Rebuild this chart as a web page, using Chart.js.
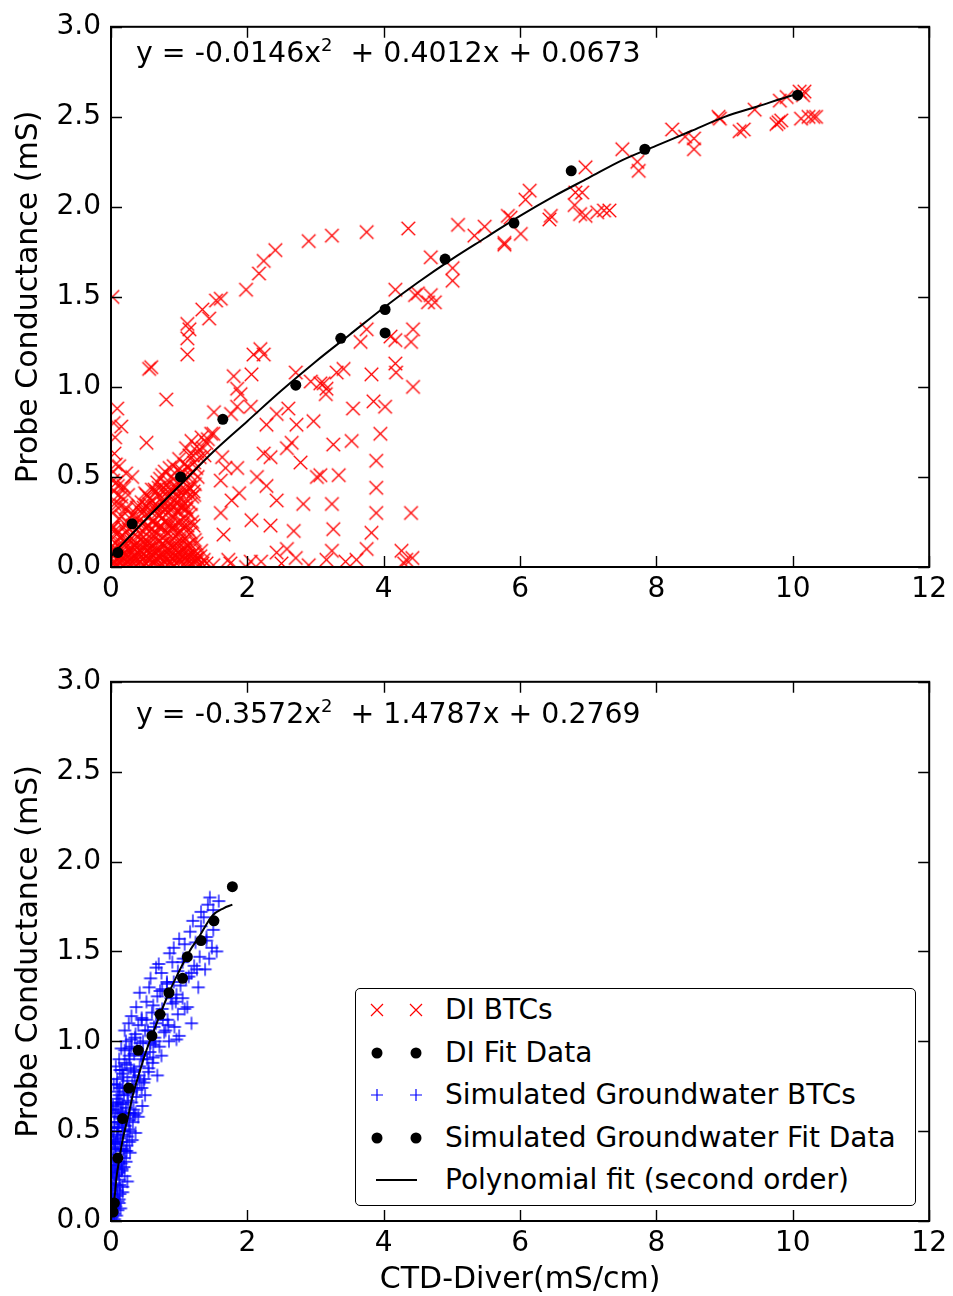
<!DOCTYPE html>
<html><head><meta charset="utf-8">
<script src="https://cdn.jsdelivr.net/npm/chart.js@4.4.1/dist/chart.umd.min.js"></script>
<style>
body{margin:0;background:#fff;width:953px;height:1296px;position:relative;overflow:hidden;font-family:"DejaVu Sans",sans-serif;}
canvas{position:absolute;left:0;}
#c1{top:0;}
#c2{top:655px;}
.eq{position:absolute;left:136px;font-size:28.4px;font-family:"DejaVu Sans";color:#000;white-space:pre;line-height:28px;}
.eq .sp{font-size:18px;position:relative;top:-11px;}
#legend{position:absolute;left:355px;top:988px;width:559px;height:216px;border:1.6px solid #000;border-radius:5px;background:#fff;}
.row{position:absolute;left:0;height:40px;width:100%;}
.row svg{position:absolute;top:0;left:0;}
.row span{position:absolute;left:89px;top:4px;font-size:28px;line-height:32px;color:#000;white-space:pre;}
</style></head>
<body>
<canvas id="c1" width="953" height="610"></canvas>
<canvas id="c2" width="953" height="643"></canvas>
<div class="eq" style="top:39px">y = -0.0146x<span class="sp">2</span>  + 0.4012x + 0.0673</div>
<div class="eq" style="top:700px">y = -0.3572x<span class="sp">2</span>  + 1.4787x + 0.2769</div>
<div id="legend"></div>
<script>
// ---------- tick labels ----------
const xTicks = [0, 2, 4, 6, 8, 10, 12];
const yTicks = [0.0, 0.5, 1.0, 1.5, 2.0, 2.5, 3.0];
const yTitle = 'Probe Conductance (mS)';
const xTitle = 'CTD-Diver(mS/cm)';

// ---------- DI BTCs (red x) ----------
const diBtcX = [
0.02,0.56,0.59,0.81,1.12,1.12,1.15,1.12,1.34,1.44,1.54,1.61,1.98,2.17,2.24,2.41,2.90,3.24,3.75,4.36,
1.80,1.85,1.90,2.06,2.09,2.24,2.19,2.71,2.93,3.07,3.16,
3.31,3.41,3.12,3.15,3.82,3.85,4.02,3.55,3.95,3.26,3.53,3.89,3.34,3.07,3.89,3.24,3.89,4.40,3.26,3.82,3.75,3.24,3.16,4.26,4.33,3.60,3.44,
3.75,3.66,4.10,4.17,4.43,4.40,4.17,4.18,4.43,
4.17,4.46,4.50,4.69,4.75,4.65,4.69,5.01,5.01,
5.09,5.48,5.33,5.77,5.86,5.82,5.77,6.01,6.14,6.08,6.45,6.43,6.81,6.80,6.88,6.96,7.13,7.23,7.31,6.96,6.91,7.50,7.72,7.74,8.23,8.42,8.55,8.55,8.91,8.93,9.22,9.28,9.44,9.76,9.79,9.83,9.81,9.91,10.10,10.15,10.17,10.12,10.23,10.30,10.34,
0.09,0.15,0.52,0.05,1.51,1.76,1.85,2.05,2.28,2.43,2.60,2.72,2.97,1.63,1.85,1.61,2.14,2.28,2.34,2.24,2.58,2.65,2.78,3.02,1.61,1.65,2.06,2.34,2.43,2.82,2.68,2.43,2.58,0.31,0.15,1.77,1.88,1.68,
1.50,1.75,1.98,2.20,2.50,2.71,2.90,4.30,4.42,1.72,2.05,
0.03,0.07,0.11,0.16,0.20,0.24,0.29,0.33,0.38,0.42,0.47,0.51,0.56,0.60,0.65,0.69,0.74,0.78,0.83,0.87,0.92,0.96,1.01,1.05,1.10,1.15,1.19,1.24,1.29,1.34,
0.06,0.13,0.19,0.26,0.34,0.40,0.46,0.53,0.59,0.66,0.72,0.79,0.85,0.91,0.98,1.04,1.12,1.20,
0.14,0.22,0.30,0.37,0.44,0.50,0.57,0.63,0.70,0.76,0.83,0.89,0.95,1.02,1.09,1.17,
0.28,0.35,0.42,0.49,0.55,0.62,0.68,0.74,0.81,0.88,0.94,1.00,1.07,1.13,
0.45,0.52,0.60,0.66,0.73,0.79,0.86,0.93,0.99,1.06,1.12,1.19,
0.68,0.75,0.82,0.88,0.95,1.03,1.09,1.16,1.23,
0.92,1.00,1.08,1.15,1.22,1.30,
1.10,1.18,1.26,1.33,1.40,1.47,
0.04,0.22,0.10,0.36,
0.01,0.055,0.10,0.145,0.19,0.235,0.28,0.325,0.37,0.415,0.46,0.505,0.55,0.595,0.64,0.685,0.73,0.775,0.82,0.865,0.91,0.955,1.00,1.045,1.09,1.135,1.18,1.225,1.27,
0.09,0.16,0.23,0.30,0.37,0.43,0.49,0.56,0.62,0.69,0.75,0.82,0.88,0.95,1.01,1.08,1.15,1.23,
0.25,0.32,0.39,0.46,0.53,0.60,0.66,0.73,0.79,0.86,0.92,0.99,1.05,1.12,1.19,
0.40,0.48,0.56,0.63,0.70,0.77,0.84,0.91,0.97,1.04,1.10,1.17,
0.60,0.70,0.78,0.86,0.93,1.00,1.07,1.14,1.21,
1.05,1.12,1.20,1.27,1.35,1.42,1.50,1.37,1.25,
0.02,0.04,0.03,0.08,0.12,0.06,0.18,0.22,0.10,0.16,0.25,0.05,0.02,
0.035,0.09,0.14,0.21,0.27,0.31,0.36,0.44,0.49,0.58,0.62,0.71,0.76,0.85,0.89,0.98,1.03,1.12,1.17,1.21,1.26,1.31,1.36,1.40,
0.03,0.10,0.17,0.23,0.29,0.37,0.43,0.50,0.56,0.63,0.69,0.76,0.82,0.88,0.95,1.01,1.08,1.16,1.25,1.32,
0.10,0.18,0.26,0.33,0.40,0.47,0.54,0.60,0.67,0.73,0.80,0.86,0.92,0.99,1.05,1.13,1.21,
0.22,0.31,0.38,0.45,0.52,0.58,0.65,0.71,0.78,0.84,0.91,0.97,1.03,1.10,1.17,
0.50,0.57,0.64,0.71,0.77,0.83,0.90,0.96,1.02,1.09,1.15,1.22,
0.72,0.79,0.86,0.92,0.98,1.06,1.13,1.20,1.27,
0.02,0.05,0.08,0.12,0.03,0.07,0.11,0.15,0.19,0.04
];
const diBtcY = [
1.50,1.10,1.11,0.93,1.18,1.27,1.32,1.35,1.43,1.38,1.48,1.49,1.54,1.63,1.70,1.76,1.81,1.84,1.86,1.88,
1.06,0.99,0.96,1.07,1.18,1.18,1.21,1.08,1.03,1.02,0.99,
1.08,1.10,1.02,0.96,1.07,0.92,0.89,0.88,0.74,0.68,0.70,0.59,0.51,0.51,0.44,0.35,0.30,0.30,0.21,0.19,0.10,0.09,0.04,0.09,0.04,0.04,0.03,
1.32,1.25,1.28,1.26,1.32,1.25,1.13,1.08,1.00,
1.54,1.51,1.52,1.51,1.47,1.47,1.72,1.66,1.59,
1.90,1.89,1.84,1.79,1.94,1.95,1.80,1.85,2.09,2.04,1.95,1.93,2.08,2.01,1.96,1.95,1.97,1.98,1.98,2.22,2.08,2.32,2.25,2.20,2.43,2.39,2.38,2.32,2.50,2.49,2.42,2.43,2.54,2.46,2.47,2.48,2.59,2.61,2.64,2.62,2.64,2.49,2.50,2.50,2.50,
0.88,0.78,0.69,0.63,0.86,0.85,0.89,0.89,0.79,0.85,0.88,0.79,0.81,0.61,0.55,0.48,0.50,0.45,0.61,0.63,0.66,0.69,0.58,0.50,0.30,0.18,0.26,0.23,0.37,0.35,0.20,0.08,0.10,0.50,0.39,0.37,0.41,0.55,
0.01,0.02,0.00,0.03,0.02,0.05,0.01,0.02,0.05,0.04,0.03,
0.02,0.00,0.03,0.01,0.04,0.00,0.02,0.05,0.01,0.03,0.00,0.02,0.04,0.01,0.03,0.00,0.02,0.05,0.01,0.03,0.00,0.02,0.04,0.01,0.03,0.00,0.02,0.04,0.01,0.02,
0.09,0.11,0.08,0.10,0.12,0.08,0.11,0.09,0.12,0.08,0.10,0.12,0.09,0.11,0.08,0.10,0.12,0.07,
0.17,0.19,0.16,0.21,0.18,0.15,0.20,0.17,0.22,0.16,0.19,0.21,0.17,0.20,0.16,0.19,
0.27,0.30,0.26,0.31,0.28,0.25,0.30,0.27,0.32,0.26,0.29,0.31,0.27,0.30,
0.36,0.40,0.37,0.42,0.38,0.35,0.41,0.37,0.40,0.36,0.42,0.39,
0.47,0.51,0.46,0.50,0.45,0.52,0.48,0.51,0.46,
0.56,0.60,0.57,0.62,0.58,0.61,
0.66,0.70,0.67,0.72,0.69,0.74,
0.22,0.33,0.45,0.12,
0.05,0.07,0.04,0.06,0.05,0.07,0.04,0.06,0.05,0.07,0.04,0.06,0.05,0.07,0.04,0.06,0.05,0.07,0.04,0.06,0.05,0.07,0.04,0.06,0.05,0.07,0.04,0.06,0.05,
0.14,0.13,0.15,0.14,0.13,0.15,0.14,0.13,0.15,0.14,0.13,0.15,0.14,0.13,0.15,0.14,0.13,0.15,
0.24,0.23,0.25,0.24,0.23,0.25,0.24,0.23,0.25,0.24,0.23,0.25,0.24,0.23,0.25,
0.34,0.33,0.35,0.34,0.33,0.35,0.34,0.33,0.35,0.34,0.33,0.35,
0.43,0.44,0.42,0.43,0.44,0.42,0.43,0.44,0.42,
0.53,0.56,0.62,0.64,0.66,0.71,0.74,0.62,0.55,
0.30,0.42,0.53,0.47,0.56,0.72,0.45,0.52,0.35,0.28,0.40,0.20,0.12,
0.03,0.01,0.06,0.02,0.04,0.08,0.03,0.06,0.01,0.08,0.03,0.06,0.01,0.07,0.02,0.05,0.08,0.06,0.02,0.08,0.03,0.06,0.04,0.02,
0.10,0.12,0.09,0.13,0.10,0.11,0.09,0.13,0.10,0.12,0.09,0.13,0.10,0.12,0.09,0.13,0.10,0.11,0.13,0.09,
0.20,0.22,0.21,0.19,0.22,0.20,0.23,0.21,0.19,0.22,0.20,0.23,0.21,0.19,0.22,0.21,0.23,
0.32,0.29,0.33,0.30,0.34,0.31,0.33,0.29,0.32,0.30,0.34,0.31,0.33,0.32,0.29,
0.41,0.38,0.43,0.40,0.44,0.39,0.42,0.44,0.38,0.41,0.44,0.40,
0.49,0.53,0.55,0.49,0.54,0.50,0.55,0.53,0.50,
0.22,0.35,0.18,0.27,0.48,0.57,0.40,0.34,0.44,0.80
];

// ---------- DI Fit Data (black dots, top) ----------
const diFitX = [0.10,0.31,1.02,1.64,2.71,3.37,4.02,4.02,4.90,5.91,6.75,7.83,10.07];
const diFitY = [0.08,0.24,0.50,0.82,1.01,1.27,1.43,1.30,1.71,1.91,2.20,2.32,2.62];

// ---------- DI polynomial fit curve ----------
const diCurveX = [0.0,0.5,1.0,1.5,2.0,2.5,3.0,3.5,4.0,4.5,5.0,5.5,6.0,6.5,7.0,7.5,8.0,8.5,9.0,9.5,10.0,10.1];
const diCurveY = [0.06,0.26,0.45,0.64,0.81,0.98,1.14,1.29,1.44,1.58,1.71,1.83,1.95,2.06,2.16,2.26,2.34,2.42,2.50,2.56,2.62,2.63];

// ---------- Simulated Groundwater BTCs (blue +) ----------
const gwBtcX = [
0.02,0.05,0.08,0.03,0.06,0.10,0.12,0.04,
0.01,0.05,0.09,0.13,0.17,0.03,0.08,0.12,0.16,0.20,0.24,0.06,
0.02,0.07,0.11,0.15,0.19,0.23,0.28,0.04,0.09,0.14,0.18,0.24,0.31,0.36,0.01,
0.05,0.10,0.16,0.21,0.27,0.33,0.40,0.46,0.03,0.08,0.14,0.19,0.25,0.30,0.37,0.50,
0.04,0.09,0.13,0.18,0.24,0.29,0.35,0.42,0.48,0.55,0.61,0.68,0.07,0.12,0.20,0.27,
0.15,0.22,0.30,0.36,0.43,0.50,0.57,0.64,0.71,0.78,0.85,0.93,1.00,0.20,0.26,0.40,
0.30,0.37,0.45,0.52,0.60,0.68,0.75,0.83,0.90,0.98,1.05,1.12,0.42,0.56,0.72,
0.58,0.66,0.74,0.82,0.90,0.98,1.06,1.14,1.22,1.30,1.38,0.70,0.86,1.02,
0.92,1.00,1.08,1.16,1.24,1.32,1.40,1.48,1.55,1.20,1.36,1.50,
1.32,1.42,1.50,1.58,1.45,
0.01,0.02,0.06,0.11,0.17,0.33,0.47,0.62,
0.03,0.07,0.10,0.14,0.02,0.06,0.09,0.13,0.17,0.04,0.08,0.11,0.15,0.19,0.22,0.03,0.06,0.10,0.14,0.18,0.23,0.27,
0.05,0.09,0.12,0.16,0.21,0.26,0.32,0.07,0.11,0.15,0.22,0.28,0.34,0.10,0.17,0.24,0.31,0.38,0.45,0.16,0.23,0.33,0.41,0.49,
0.27,0.34,0.44,0.53,0.62,0.35,0.47,0.58,0.66,0.76,0.52,0.63,0.80,0.88,0.95,0.75,0.92,1.10,1.26,1.40,
0.01,0.03,0.05,0.07,0.02,0.04,0.06,0.09,0.12,0.03,0.07,0.10,0.13,0.16,0.05,0.09,0.13,0.17,0.21,0.08,0.12,0.17,0.22,0.28,0.13,0.18,0.24,0.30,0.36,0.20,0.27,0.34,0.42,0.30,0.38,0.46,0.55,0.45,0.54,0.65,0.74,0.62,0.72,0.84,0.96,0.82,0.96,1.08,1.18,1.05,1.18,1.28,1.44
];
const gwBtcY = [
0.02,0.04,0.03,0.07,0.09,0.06,0.10,0.12,
0.15,0.18,0.14,0.20,0.16,0.24,0.26,0.23,0.28,0.25,0.22,0.30,
0.34,0.37,0.33,0.39,0.35,0.42,0.38,0.45,0.48,0.44,0.50,0.47,0.45,0.49,0.52,
0.55,0.58,0.54,0.60,0.56,0.62,0.58,0.64,0.64,0.68,0.66,0.70,0.67,0.72,0.69,0.70,
0.76,0.79,0.74,0.82,0.78,0.85,0.80,0.86,0.77,0.83,0.88,0.81,0.86,0.90,0.88,0.92,
0.96,1.00,0.97,1.04,0.99,1.06,0.94,1.02,0.97,1.05,1.00,1.08,1.03,1.06,1.10,1.09,
1.14,1.19,1.13,1.22,1.16,1.25,1.18,1.12,1.21,1.15,1.24,1.19,1.27,1.30,1.28,
1.35,1.41,1.38,1.33,1.44,1.39,1.46,1.36,1.42,1.47,1.40,1.43,1.49,1.31,
1.52,1.57,1.54,1.61,1.55,1.64,1.58,1.52,1.50,1.67,1.69,1.62,
1.72,1.76,1.73,1.78,1.80,
0.28,0.62,0.43,0.52,0.60,0.74,0.93,0.98,
0.05,0.08,0.11,0.07,0.19,0.21,0.17,0.15,0.19,0.31,0.29,0.27,0.32,0.30,0.33,0.41,0.40,0.43,0.46,0.40,0.39,0.44,
0.52,0.50,0.55,0.57,0.53,0.51,0.55,0.62,0.65,0.61,0.63,0.60,0.59,0.72,0.75,0.71,0.76,0.73,0.74,0.84,0.87,0.83,0.81,0.79,
0.96,0.93,0.92,0.90,0.91,1.02,1.00,0.99,1.10,1.12,1.12,1.08,1.06,1.24,1.22,1.29,1.33,1.35,1.40,1.56,
0.10,0.13,0.01,0.20,0.27,0.35,0.25,0.31,0.12,0.47,0.44,0.52,0.40,0.29,0.60,0.66,0.58,0.48,0.39,0.76,0.70,0.65,0.57,0.50,0.84,0.80,0.74,0.66,0.60,0.95,0.90,0.84,0.78,1.01,0.96,0.90,0.85,1.12,1.06,1.00,0.92,1.20,1.15,1.09,1.01,1.32,1.26,1.18,1.10,1.44,1.38,1.30,1.46
];

// ---------- Simulated Groundwater Fit Data (black dots, bottom) ----------
const gwFitX = [0.03,0.05,0.10,0.17,0.26,0.40,0.60,0.72,0.85,1.05,1.12,1.32,1.51,1.78];
const gwFitY = [0.05,0.10,0.35,0.57,0.74,0.95,1.03,1.15,1.27,1.35,1.47,1.56,1.67,1.86];

// ---------- GW polynomial fit curve ----------
const gwCurveX = [0.02,0.05,0.08,0.12,0.17,0.25,0.32,0.42,0.52,0.62,0.71,0.85,1.00,1.15,1.29,1.49,1.65,1.78];
const gwCurveY = [0.03,0.12,0.24,0.34,0.45,0.58,0.70,0.83,0.95,1.05,1.14,1.27,1.39,1.50,1.58,1.70,1.74,1.76];

const labels = ['DI BTCs','DI Fit Data','Simulated Groundwater BTCs','Simulated Groundwater Fit Data','Polynomial fit (second order)'];

const pts = (xs, ys) => xs.map((x, i) => ({x, y: ys[i]}));
const FONT = 'DejaVu Sans';

// marker glyph images (used as Chart.js pointStyle)
function markerImage(kind, color, half, lw) {
  const s = Math.ceil(half * 2 + 3);
  const c = document.createElement('canvas');
  c.width = s; c.height = s;
  const g = c.getContext('2d');
  const m = s / 2;
  g.strokeStyle = color; g.lineWidth = lw;
  g.beginPath();
  if (kind === 'x') {
    g.moveTo(m - half, m - half); g.lineTo(m + half, m + half);
    g.moveTo(m - half, m + half); g.lineTo(m + half, m - half);
  } else {
    g.moveTo(m - half, m); g.lineTo(m + half, m);
    g.moveTo(m, m - half); g.lineTo(m, m + half);
  }
  g.stroke();
  return c;
}
const redXImg = markerImage('x', '#ff0000', 6.8, 1.3);
const bluePlusImg = markerImage('plus', '#0000ff', 6.5, 1.3);

const frame = {
  id: 'frame',
  afterDatasetsDraw(chart) {
    const {ctx, chartArea: a, scales: {x, y}} = chart;
    ctx.save();
    ctx.strokeStyle = '#000';
    ctx.lineWidth = 1.4;
    ctx.beginPath();
    x.ticks.forEach(t => {
      const px = Math.round(x.getPixelForValue(t.value)) + 0.5;
      ctx.moveTo(px, a.bottom); ctx.lineTo(px, a.bottom - 11);
      ctx.moveTo(px, a.top); ctx.lineTo(px, a.top + 11);
    });
    y.ticks.forEach(t => {
      const py = Math.round(y.getPixelForValue(t.value)) + 0.5;
      ctx.moveTo(a.left, py); ctx.lineTo(a.left + 11, py);
      ctx.moveTo(a.right, py); ctx.lineTo(a.right - 11, py);
    });
    ctx.stroke();
    ctx.lineWidth = 2;
    ctx.strokeRect(a.left, a.top, a.right - a.left, a.bottom - a.top);
    ctx.restore();
  }
};

function makeOptions(xAxisHeight, showXTitle) {
  return {
    responsive: false,
    animation: false,
    events: [],
    layout: {padding: {left: 0, right: 20, top: 22, bottom: 0}},
    plugins: {legend: {display: false}, tooltip: {enabled: false}},
    scales: {
      x: {
        type: 'linear', min: xTicks[0], max: xTicks[xTicks.length - 1],
        afterBuildTicks: s => { s.ticks = xTicks.map(v => ({value: v})); },
        ticks: {color: '#000', font: {family: FONT, size: 28}, padding: 6, maxRotation: 0, autoSkip: false,
                callback: v => String(v)},
        grid: {display: false, drawTicks: false},
        border: {display: false},
        title: {display: showXTitle, text: xTitle, color: '#000', font: {family: FONT, size: 30}, padding: {top: 0, bottom: 0}},
        afterFit: s => { s.height = xAxisHeight; }
      },
      y: {
        type: 'linear', min: yTicks[0], max: yTicks[yTicks.length - 1],
        afterBuildTicks: s => { s.ticks = yTicks.map(v => ({value: v})); },
        ticks: {color: '#000', font: {family: FONT, size: 28}, padding: 10, autoSkip: false,
                callback: v => Number(v).toFixed(1)},
        grid: {display: false, drawTicks: false},
        border: {display: false},
        title: {display: true, text: yTitle, color: '#000', font: {family: FONT, size: 30}, padding: {top: 11, bottom: 0}},
        afterFit: s => { s.width = 111; }
      }
    }
  };
}

const redX = {label: labels[0], data: pts(diBtcX, diBtcY), pointStyle: redXImg, pointRadius: 7,
  pointBorderWidth: 0, borderColor: '#ff0000', backgroundColor: '#ff0000', showLine: false, order: 3, clip: 0};
const diDots = {label: labels[1], data: pts(diFitX, diFitY), pointStyle: 'circle', pointRadius: 5.5,
  pointBorderColor: '#000', pointBackgroundColor: '#000', pointBorderWidth: 0, showLine: false, order: 2, clip: 0};
const diLine = {label: labels[4], data: pts(diCurveX, diCurveY), showLine: true, pointRadius: 0, borderColor: '#000',
  borderWidth: 2, cubicInterpolationMode: 'monotone', order: 1, clip: 0};

const blueP = {label: labels[2], data: pts(gwBtcX, gwBtcY), pointStyle: bluePlusImg, pointRadius: 7,
  pointBorderWidth: 0, borderColor: '#0000ff', backgroundColor: '#0000ff', showLine: false, order: 3, clip: 0};
const gwDots = {label: labels[3], data: pts(gwFitX, gwFitY), pointStyle: 'circle', pointRadius: 5.5,
  pointBorderColor: '#000', pointBackgroundColor: '#000', pointBorderWidth: 0, showLine: false, order: 2, clip: 0};
const gwLine = {label: labels[4], data: pts(gwCurveX, gwCurveY), showLine: true, pointRadius: 0, borderColor: '#000',
  borderWidth: 2, cubicInterpolationMode: 'monotone', order: 1, clip: 0};

new Chart(document.getElementById('c1'), {type: 'scatter', data: {datasets: [diLine, diDots, redX]},
  options: makeOptions(43, false), plugins: [frame]});
new Chart(document.getElementById('c2'), {type: 'scatter', data: {datasets: [gwLine, gwDots, blueP]},
  options: makeOptions(77, true), plugins: [frame]});

// ---------- legend (HTML, two markers per entry) ----------
const legendItems = [
  {text: labels[0], kind: 'x', color: '#ff0000'},
  {text: labels[1], kind: 'dot', color: '#000'},
  {text: labels[2], kind: 'plus', color: '#0000ff'},
  {text: labels[3], kind: 'dot', color: '#000'},
  {text: labels[4], kind: 'line', color: '#000'}
];
const lg = document.getElementById('legend');
legendItems.forEach((it, i) => {
  const row = document.createElement('div');
  row.className = 'row';
  row.style.top = (1 + i * 42.6) + 'px';
  let m = '';
  const mk = cx => {
    if (it.kind === 'x') return `<path d="M${cx-6} 14 L${cx+6} 26 M${cx-6} 26 L${cx+6} 14" stroke="${it.color}" stroke-width="1.2"/>`;
    if (it.kind === 'plus') return `<path d="M${cx-6} 20 L${cx+6} 20 M${cx} 14 L${cx} 26" stroke="${it.color}" stroke-width="1.2"/>`;
    if (it.kind === 'dot') return `<circle cx="${cx}" cy="20" r="5.5" fill="${it.color}"/>`;
    return '';
  };
  if (it.kind === 'line') m = `<path d="M20 20 L61 20" stroke="#000" stroke-width="2"/>`;
  else m = mk(21) + mk(60);
  row.innerHTML = `<svg width="80" height="40">${m}</svg><span>${it.text}</span>`;
  lg.appendChild(row);
});
</script>
</body></html>
